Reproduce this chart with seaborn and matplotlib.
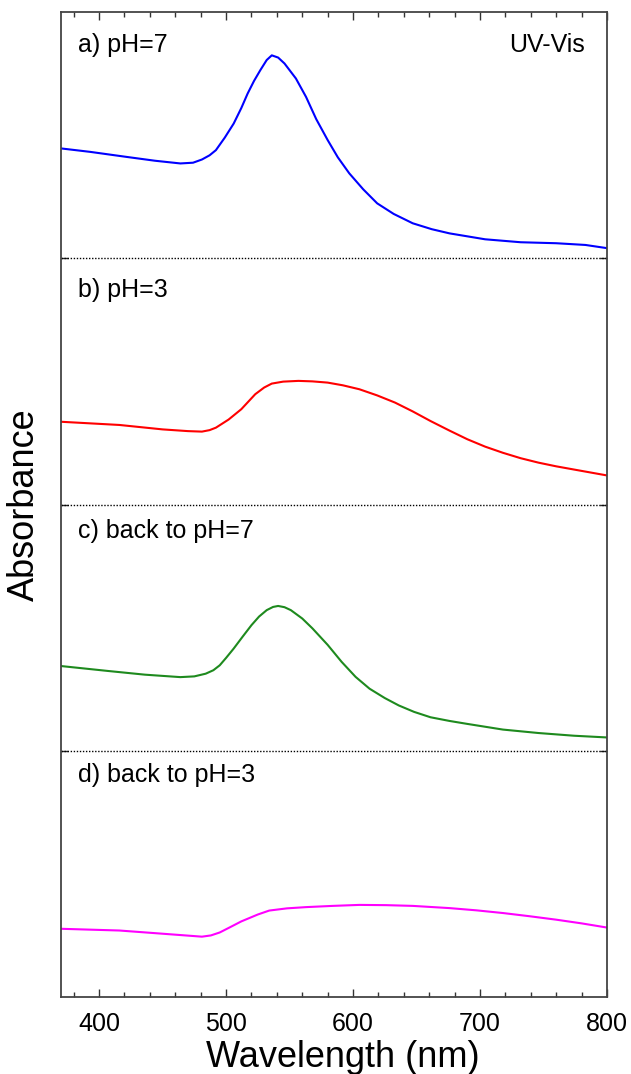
import numpy as np
import pandas as pd
import matplotlib.pyplot as plt
import seaborn as sns
from matplotlib.ticker import MultipleLocator

# wavelength (nm) and absorbance (relative to each panel's baseline)
wl_a = [370, 393, 421, 444, 464, 474, 481, 487, 492, 499, 506, 512, 517, 522, 527, 532, 536, 541,
        546, 555, 563, 571, 580, 588, 597, 608, 619, 632, 647, 662, 676, 704, 732, 760, 783, 800]
abs_a = [0.446, 0.432, 0.412, 0.396, 0.385, 0.388, 0.401, 0.418, 0.439, 0.49, 0.547, 0.61, 0.669,
         0.72, 0.764, 0.805, 0.824, 0.815, 0.791, 0.73, 0.655, 0.565, 0.480, 0.41, 0.345, 0.28,
         0.223, 0.18, 0.142, 0.118, 0.101, 0.077, 0.065, 0.061, 0.054, 0.041]

wl_b = [370, 416, 450, 470, 481, 487, 492, 502, 512, 523, 530, 536, 545, 557, 568, 580, 592,
        605, 619, 633, 647, 661, 676, 690, 704, 718, 732, 746, 760, 774, 787, 800]
abs_b = [0.336, 0.323, 0.305, 0.298, 0.296, 0.302, 0.312, 0.345, 0.387, 0.448, 0.475, 0.491,
         0.499, 0.502, 0.500, 0.495, 0.484, 0.468, 0.443, 0.414, 0.378, 0.339, 0.300, 0.265,
         0.235, 0.210, 0.188, 0.170, 0.155, 0.142, 0.130, 0.118]

wl_c = [370, 407, 436, 464, 475, 484, 490, 495, 500, 506, 513, 520, 526, 532, 537, 541, 546, 551,
        560, 568, 580, 591, 602, 613, 625, 636, 648, 661, 676, 690, 718, 746, 774, 800]
abs_c = [0.344, 0.324, 0.309, 0.299, 0.302, 0.313, 0.327, 0.347, 0.377, 0.415, 0.463, 0.510,
         0.545, 0.571, 0.584, 0.588, 0.583, 0.571, 0.537, 0.497, 0.43, 0.361, 0.30, 0.252, 0.214,
         0.184, 0.158, 0.136, 0.121, 0.109, 0.086, 0.072, 0.061, 0.054]

wl_d = [370, 416, 450, 481, 488, 495, 503, 512, 525, 534, 548, 563, 584, 605, 626, 647, 676,
        697, 718, 739, 760, 780, 800]
abs_d = [0.277, 0.270, 0.257, 0.245, 0.250, 0.262, 0.283, 0.307, 0.335, 0.351, 0.360, 0.365,
         0.370, 0.374, 0.373, 0.370, 0.361, 0.352, 0.341, 0.328, 0.314, 0.299, 0.282]

labels = ["a) pH=7", "b) pH=3", "c) back to pH=7", "d) back to pH=3"]
colors = ["#0000ff", "#ff0000", "#1e8a1e", "#ff00ff"]
offsets = [3, 2, 1, 0]
label_y = [0.866, 0.87, 0.894, 0.903]

sns.set_style("ticks")
plt.rcParams["font.family"] = ["Liberation Sans", "DejaVu Sans"]

frames = []
for lab, wl, ab, off in zip(labels, [wl_a, wl_b, wl_c, wl_d], [abs_a, abs_b, abs_c, abs_d], offsets):
    frames.append(pd.DataFrame({"wavelength": wl, "absorbance": np.array(ab) + off, "sample": lab}))
df = pd.concat(frames, ignore_index=True)

fig, ax = plt.subplots(figsize=(6.31, 10.74), dpi=100)
fig.subplots_adjust(left=61 / 631, right=607 / 631, top=1 - 12 / 1074, bottom=1 - 997 / 1074)

sns.lineplot(data=df, x="wavelength", y="absorbance", hue="sample", palette=colors,
             linewidth=1.5, legend=False, ax=ax, sort=False)

# dotted separators between the stacked spectra
for y in [1, 2, 3]:
    ax.axhline(y, color="black", linestyle=(0, (1, 1.2)), linewidth=1.0)

for lab, off, ly in zip(labels, offsets, label_y):
    ax.text(383, off + ly, lab, fontsize=18, va="center", ha="left", color="black")
ax.text(0.96, 0.966, "UV-Vis", transform=ax.transAxes, fontsize=18, va="center", ha="right",
        color="black")

ax.set_xlim(370, 800)
ax.set_ylim(0, 4)
ax.xaxis.set_major_locator(MultipleLocator(100))
ax.xaxis.set_minor_locator(MultipleLocator(20))
ax.set_yticks([1, 2, 3])
ax.set_yticklabels([])
ax.tick_params(axis="x", which="both", direction="in", top=True, bottom=True, labelsize=18,
               pad=11, color="#333333", labelcolor="black")
ax.tick_params(axis="x", which="major", length=6, width=1.0)
ax.tick_params(axis="x", which="minor", length=3.5, width=1.0)
ax.tick_params(axis="y", direction="in", left=True, right=True, length=5, width=1.0)

for s in ax.spines.values():
    s.set_color("#444444")
    s.set_linewidth(1.3)

ax.set_xlabel("Wavelength (nm)", fontsize=26, color="black")
ax.xaxis.set_label_coords(0.516, -0.044)
ax.set_ylabel("Absorbance", fontsize=26, labelpad=10, color="black")

plt.savefig("out.png", dpi=100)
